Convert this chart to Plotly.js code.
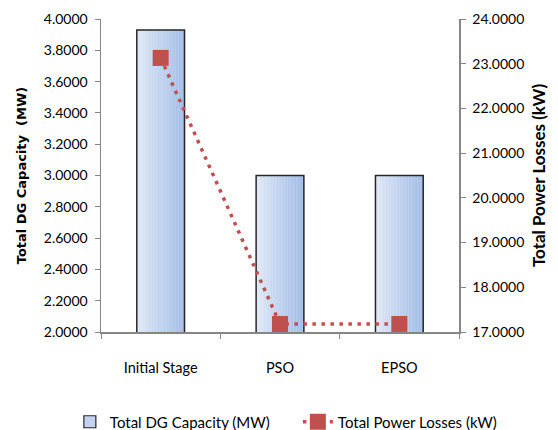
<!DOCTYPE html>
<html>
<head>
<meta charset="utf-8">
<script src="https://cdn.plot.ly/plotly-3.0.1.min.js"></script>
<style>html,body{margin:0;padding:0;background:#fff;}#chart{width:558px;height:430px;}</style>
</head>
<body>
<div id="chart"></div>
<script>
const categories = ["Initial Stage", "PSO", "EPSO"];
const dgCapacity = [3.93, 3.0, 3.0];          // MW
const powerLosses = [23.13, 17.18, 17.18];    // kW
const leftTicks = [2.0, 2.2, 2.4, 2.6, 2.8, 3.0, 3.2, 3.4, 3.6, 3.8, 4.0];
const rightTicks = [17, 18, 19, 20, 21, 22, 23, 24];

const FONT = 'Lato, "Open Sans", sans-serif';
const barWidth = 0.4;
const nStripes = 32;
const lightC = [225, 233, 246], darkC = [162, 189, 231];

const traces = [];
// gradient stripes of the bars (visual fill)
for (let i = 0; i < nStripes; i++) {
  const t = i / (nStripes - 1);
  const c = lightC.map((v, k) => Math.round(v + (darkC[k] - v) * Math.pow(t, 0.9)));
  traces.push({
    type: 'bar', x: categories, y: dgCapacity, yaxis: 'y', base: 0,
    width: barWidth / nStripes * 1.15, offset: -barWidth / 2 + i * barWidth / nStripes,
    marker: {color: 'rgb(' + c.join(',') + ')', line: {width: 0}},
    showlegend: false, hoverinfo: 'skip'
  });
}
// outline bar
traces.push({
  type: 'bar', name: 'Total DG Capacity (MW)', x: categories, y: dgCapacity, base: 0,
  width: barWidth, offset: -barWidth / 2,
  marker: {color: 'rgba(0,0,0,0)', line: {color: '#262626', width: 1.5}},
  showlegend: false
});
// legend entry for the bars
traces.push({
  type: 'bar', name: 'Total DG Capacity (MW)', x: [null], y: [null],
  marker: {color: '#c3d3ef', line: {color: '#262626', width: 1.2}}, showlegend: true
});
traces.push({
  type: 'scatter', mode: 'lines+markers', name: 'Total Power Losses (kW)',
  x: categories, y: powerLosses, yaxis: 'y2',
  line: {color: '#c0504d', width: 3.5, dash: '3.5px,5.5px'},
  marker: {symbol: 'square', size: 16, color: '#c0504d'}
});

const layout = {
  width: 558, height: 430,
  margin: {l: 101, r: 99, t: 19, b: 98, autoexpand: false},
  paper_bgcolor: '#fff', plot_bgcolor: '#fff',
  barmode: 'overlay',
  font: {family: FONT, size: 15, color: '#000'},
  showlegend: true,
  legend: {orientation: 'h', x: -0.087, xanchor: 'left', y: -0.2875, yanchor: 'middle',
           font: {family: FONT, size: 15, color: '#000'}, traceorder: 'normal',
           itemwidth: 30, entrywidth: 183, bgcolor: 'rgba(0,0,0,0)'},
  xaxis: {
    type: 'category', showline: true, linecolor: '#868686', linewidth: 1.5,
    ticks: 'outside', tickson: 'boundaries', ticklen: 5, tickcolor: '#868686',
    showgrid: false, zeroline: false, ticklabelstandoff: 22,
    tickfont: {family: FONT, size: 14.5}
  },
  yaxis: {
    range: [2, 4], tickvals: leftTicks, ticktext: leftTicks.map(v => v.toFixed(4)),
    showline: true, linecolor: '#868686', linewidth: 1.5, ticks: 'outside', ticklen: 5,
    tickcolor: '#868686', showgrid: false, zeroline: false, ticklabelstandoff: 4,
    title: {text: '<b>Total DG Capacity  (MW)</b>', font: {family: '"DejaVu Sans", sans-serif', size: 13}, standoff: 14},
    tickfont: {family: FONT, size: 14}
  },
  yaxis2: {
    overlaying: 'y', side: 'right', range: [17, 24], tickvals: rightTicks,
    ticktext: rightTicks.map(v => v.toFixed(4)),
    showline: true, linecolor: '#868686', linewidth: 1.5, ticks: 'outside', ticklen: 5,
    tickcolor: '#868686', showgrid: false, zeroline: false, ticklabelstandoff: 4,
    title: {text: '<b>Total Power Losses (kW)</b>', font: {family: FONT, size: 17}, standoff: 10},
    tickfont: {family: FONT, size: 14}
  }
};

Plotly.newPlot('chart', traces, layout, {displayModeBar: false, staticPlot: true});
</script>
</body>
</html>
